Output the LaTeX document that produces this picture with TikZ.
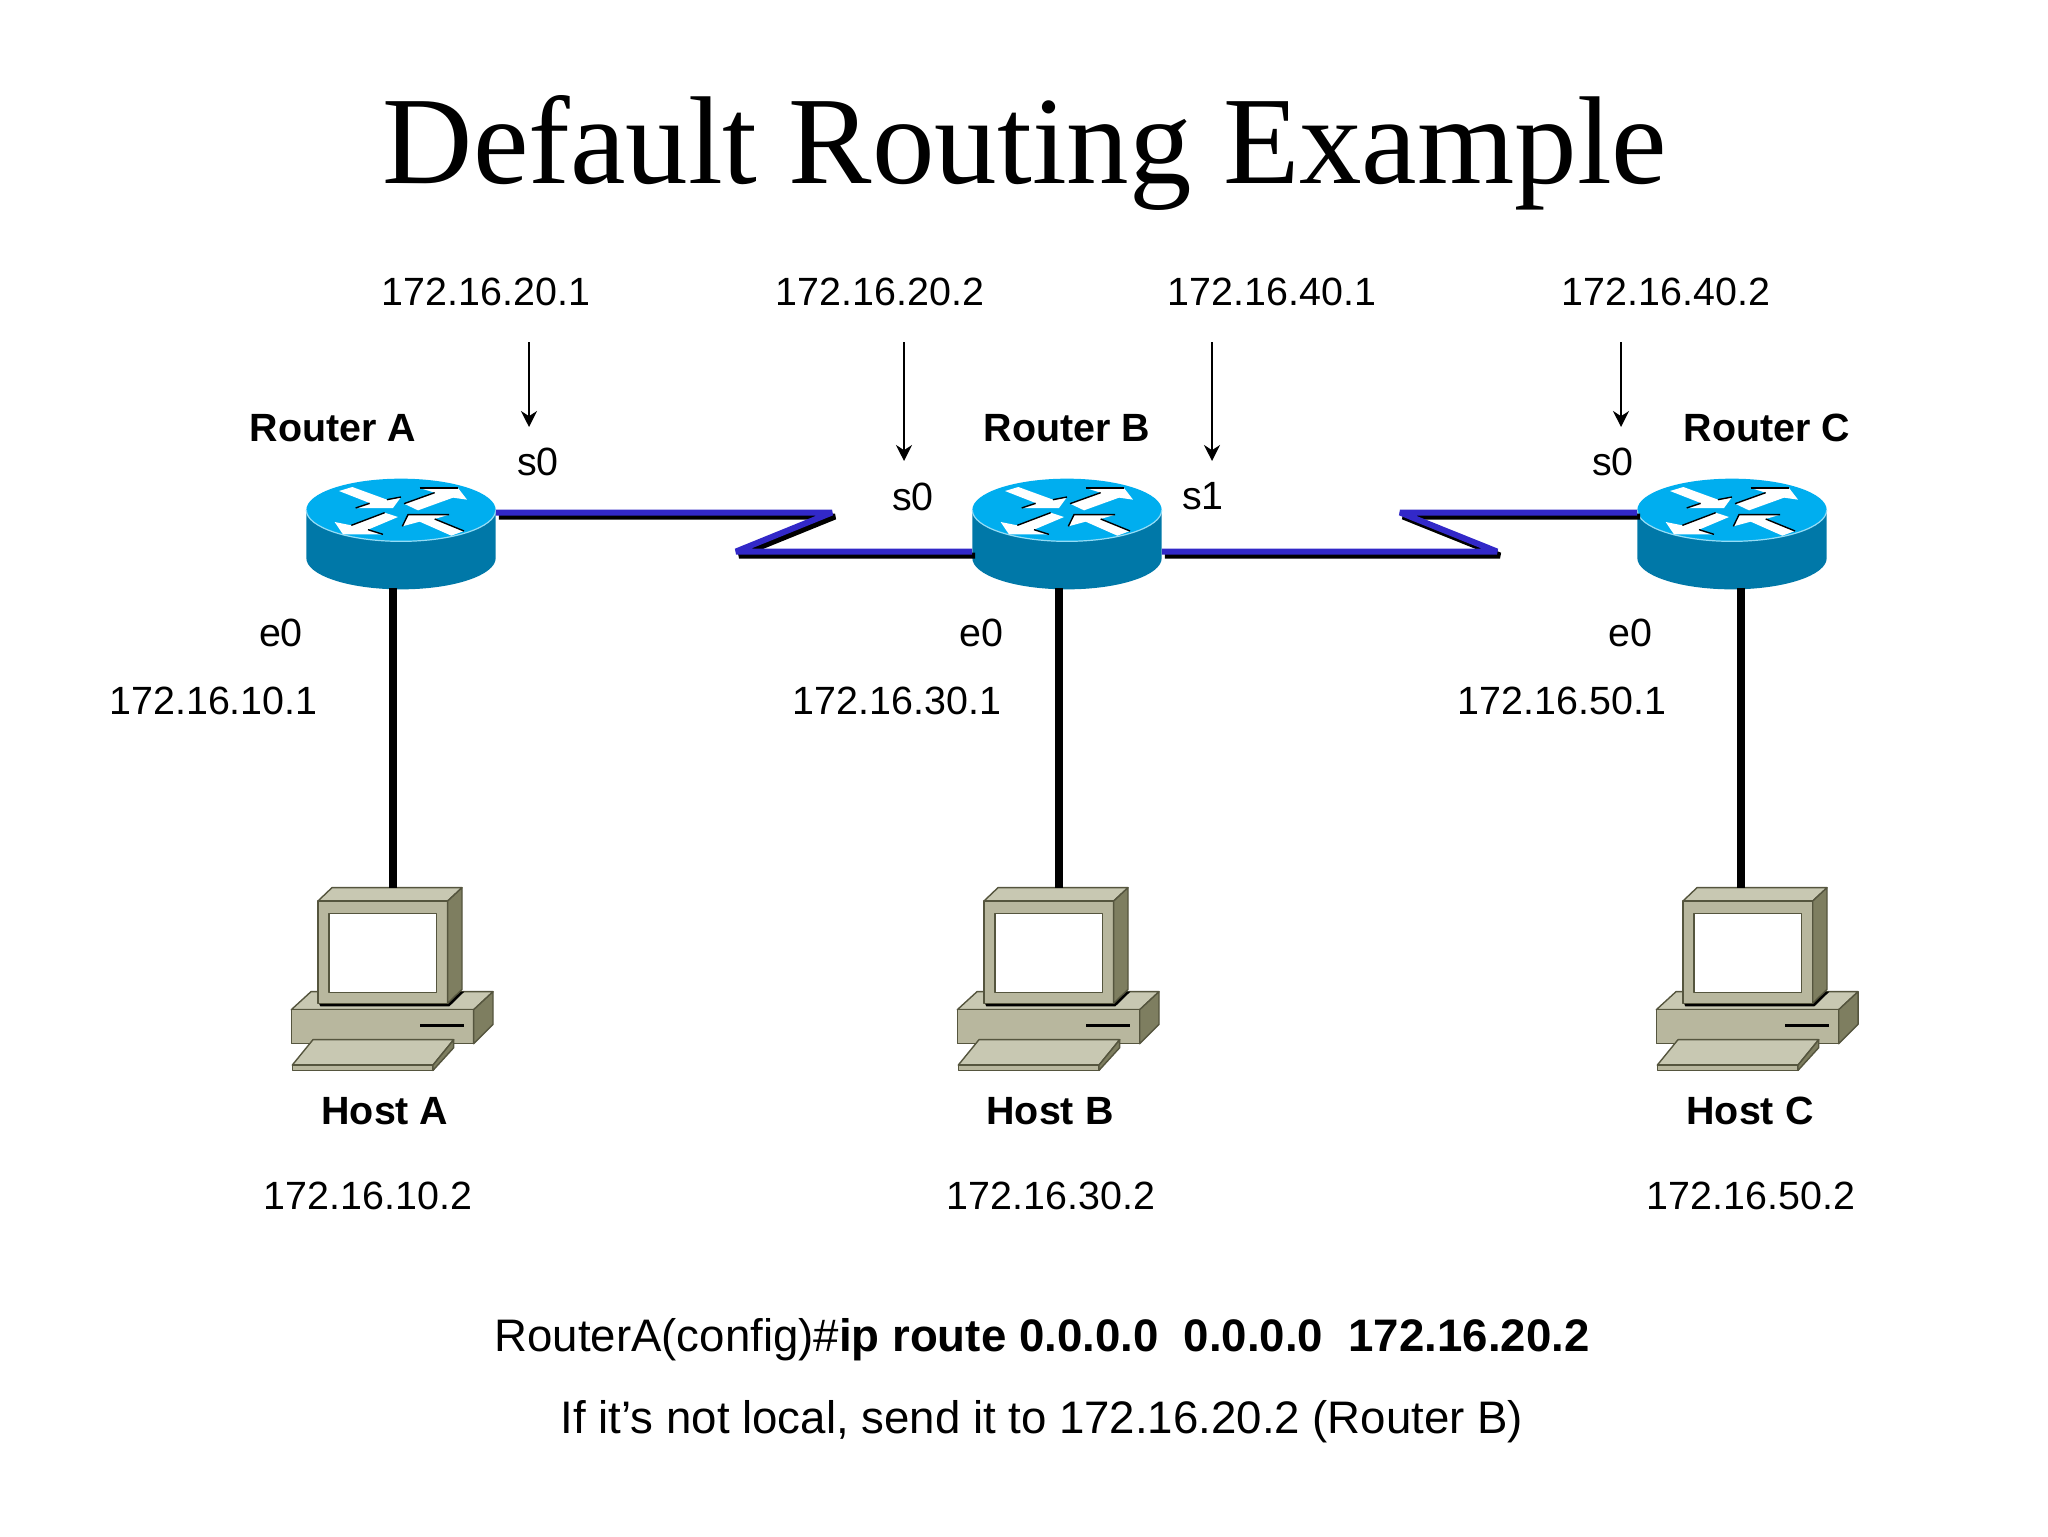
\documentclass[tikz,border=0pt]{standalone}
\usepackage{fontspec}
\setmainfont{Liberation Sans}
\newfontfamily\titlefont{Liberation Serif}
\definecolor{rtop}{RGB}{0,174,239}
\definecolor{rside}{RGB}{0,120,168}
\definecolor{rrim}{RGB}{150,220,245}
\definecolor{serialblue}{RGB}{50,40,200}
\definecolor{hfront}{RGB}{184,183,158}
\definecolor{htop}{RGB}{200,200,178}
\definecolor{hside}{RGB}{126,126,96}
\definecolor{hedge}{RGB}{85,85,62}
\usetikzlibrary{arrows.meta}
\tikzset{
  lab/.style={font=\fontsize{19.7}{24}\selectfont,inner sep=0pt,text=black},
  blab/.style={font=\fontsize{19.7}{24}\selectfont\bfseries,inner sep=0pt,text=black},
  cmd/.style={font=\fontsize{22.8}{26}\selectfont,inner sep=0pt,text=black},
  ttl/.style={font=\fontsize{62.5}{70}\titlefont,inner sep=0pt,text=black},
  serial/.style={draw=serialblue,line width=3pt,line join=bevel,
    preaction={draw=black,line width=3pt,line join=bevel,transform canvas={xshift=1.5pt,yshift=-2pt}}},
  eth/.style={draw=black,line width=4pt},
  pointer/.style={draw=black,line width=1pt,-{Stealth[length=8pt,width=8pt]}},
  rarrow/.style={fill=white,draw=none},
  rshade/.style={draw=black,line width=0.7pt},
  hpart/.style={draw=hedge,line width=0.7pt,line join=round},
  router/.pic={
    \begin{scope}[x=0.1667pt,y=-0.1667pt]
      \fill[rside] (-284,0) -- (-284,144) arc[start angle=180,end angle=0,x radius=284,y radius=94] -- (284,0) -- cycle;
      \fill[rtop] (0,0) ellipse[x radius=284,y radius=94];
      \draw[rrim,line width=0.6pt] (-284,0) arc[start angle=180,end angle=0,x radius=284,y radius=94];
      \fill[rarrow] (-186,-57) -- (-146,-69) -- (-42,-31) -- (0,-39) -- (-24,-6) -- (-136,-6) -- (-94,-21) -- cycle;
      \draw[rshade] (-136,-6) -- (-94,-20); \draw[rshade] (-42,-31) -- (0,-39);
      \fill[rarrow] (9,-19) -- (101,-52) -- (56,-66) -- (171,-66) -- (198,-31) -- (156,-37) -- (51,1) -- cycle;
      \draw[rshade] (9,-19) -- (101,-52); \draw[rshade] (56,-66) -- (171,-66);
      \fill[rarrow] (-49,8) -- (-9,21) -- (-99,59) -- (-54,73) -- (-174,73) -- (-199,36) -- (-149,46) -- cycle;
      \draw[rshade] (-149,46) -- (-49,8); \draw[rshade] (-99,59) -- (-54,73);
      \fill[rarrow] (4,49) -- (21,14) -- (144,14) -- (101,27) -- (189,63) -- (151,77) -- (56,35) -- cycle;
      \draw[rshade] (4,49) -- (21,14) -- (144,14); \draw[rshade] (101,27) -- (189,63);
    \end{scope}
    \node[minimum width=94.5pt,minimum height=54.5pt,inner sep=0pt] (-box) at (0pt,-11.5pt) {};
  },
  host/.pic={
    \begin{scope}[x=0.1667pt,y=-0.1667pt,shift={(-365,-329)}]
      \filldraw[fill=htop,hpart] (63,421) -- (122,367) -- (668,367) -- (610,421) -- cycle;
      \filldraw[fill=hfront,hpart] (63,421) rectangle (610,523);
      \filldraw[fill=hside,hpart] (610,421) -- (668,367) -- (668,465) -- (610,523) -- cycle;
      \fill[black] (145,400) -- (532,400) -- (565,367) -- (582,367) -- (537,411) -- (150,411) -- cycle;
      \fill[black] (450,463) rectangle (580,472);
      \filldraw[fill=htop,hpart] (143,95) -- (185,55) -- (575,55) -- (532,95) -- cycle;
      \filldraw[fill=hfront,hpart] (143,95) rectangle (532,402);
      \filldraw[fill=hside,hpart] (532,95) -- (575,55) -- (575,360) -- (532,402) -- cycle;
      \filldraw[fill=white,hpart] (176,133) rectangle (498,370);
      \filldraw[fill=htop,hpart] (66,587) -- (128,511) -- (550,511) -- (488,587) -- cycle;
      \filldraw[fill=hfront,hpart] (66,587) rectangle (488,603);
      \filldraw[fill=hside,hpart] (488,587) -- (550,511) -- (550,535) -- (488,603) -- cycle;
    \end{scope}
    \node[minimum width=101pt,minimum height=91pt,inner sep=0pt] (-box) at (0pt,0pt) {};
  }
}
\begin{document}
\begin{tikzpicture}[x=0.5pt,y=-0.5pt]
\useasboundingbox (0,0) rectangle (2048,1536);
\fill[white] (0,0) rectangle (2048,1536);
% title
\node[ttl] (title) at (1025,153) {Default Routing Example};
% routers
\pic (ra) at (401,510) {router};
\pic (rb) at (1067,510) {router};
\pic (rc) at (1732,510) {router};
% hosts
\pic (ha) at (392,979) {host};
\pic (hb) at (1058,979) {host};
\pic (hc) at (1757,979) {host};
% free ends
\coordinate (za1) at (832,512.5);
\coordinate (za2) at (736,551.5);
\coordinate (zb1) at (1497,551.5);
\coordinate (zb2) at (1400,512.5);
\coordinate (ta) at (392.5,888);
\coordinate (tb) at (1058.5,888);
\coordinate (tc) at (1741,888);
\coordinate (p1s) at (529,342); \coordinate (p1e) at (529,427);
\coordinate (p2s) at (904,342); \coordinate (p2e) at (904,461);
\coordinate (p3s) at (1212,342); \coordinate (p3e) at (1212,461);
\coordinate (p4s) at (1621,342); \coordinate (p4e) at (1621,427);
% connectors
\draw[serial] (ra-box.east |- za1) -- (za1) -- (za2) -- (rb-box.west |- za2);
\draw[serial] (rb-box.east |- zb1) -- (zb1) -- (zb2) -- (rc-box.west |- zb2);
\draw[eth] (ra-box.south -| ta) -- (ta);
\draw[eth] (rb-box.south -| tb) -- (tb);
\draw[eth] (rc-box.south -| tc) -- (tc);
\draw[pointer] (p1s) -- (p1e);
\draw[pointer] (p2s) -- (p2e);
\draw[pointer] (p3s) -- (p3e);
\draw[pointer] (p4s) -- (p4e);
% labels
\node[lab] (i1) at (486,292) {172.16.20.1};
\node[lab] (i2) at (880,292) {172.16.20.2};
\node[lab] (i3) at (1272,292) {172.16.40.1};
\node[lab] (i4) at (1666,292) {172.16.40.2};
\node[blab] (na) at (333,428) {Router A};
\node[blab] (nb) at (1067,428) {Router B};
\node[blab] (nc) at (1767,428) {Router C};
\node[lab] (s1) at (538,462) {s0};
\node[lab] (s2) at (913,497) {s0};
\node[lab] (s3) at (1203,496) {s1};
\node[lab] (s4) at (1613,462) {s0};
\node[lab] (e1) at (281,633) {e0};
\node[lab] (e2) at (981.5,633) {e0};
\node[lab] (e3) at (1630,633) {e0};
\node[lab] (g1) at (213.5,701) {172.16.10.1};
\node[lab] (g2) at (897,701) {172.16.30.1};
\node[lab] (g3) at (1562,701) {172.16.50.1};
\node[blab] (la) at (385,1111) {Host A};
\node[blab] (lb) at (1050,1111) {Host B};
\node[blab] (lc) at (1750,1111) {Host C};
\node[lab] (ga) at (368,1196) {172.16.10.2};
\node[lab] (gb) at (1051,1196) {172.16.30.2};
\node[lab] (gc) at (1751,1196) {172.16.50.2};
\node[cmd] (c1) at (1042,1340) {RouterA(config)\#\textbf{ip route 0.0.0.0\ \ 0.0.0.0\ \ 172.16.20.2}};
\node[cmd] (c2) at (1042,1422) {If it’s not local, send it to 172.16.20.2 (Router B)};
\end{tikzpicture}
\end{document}
